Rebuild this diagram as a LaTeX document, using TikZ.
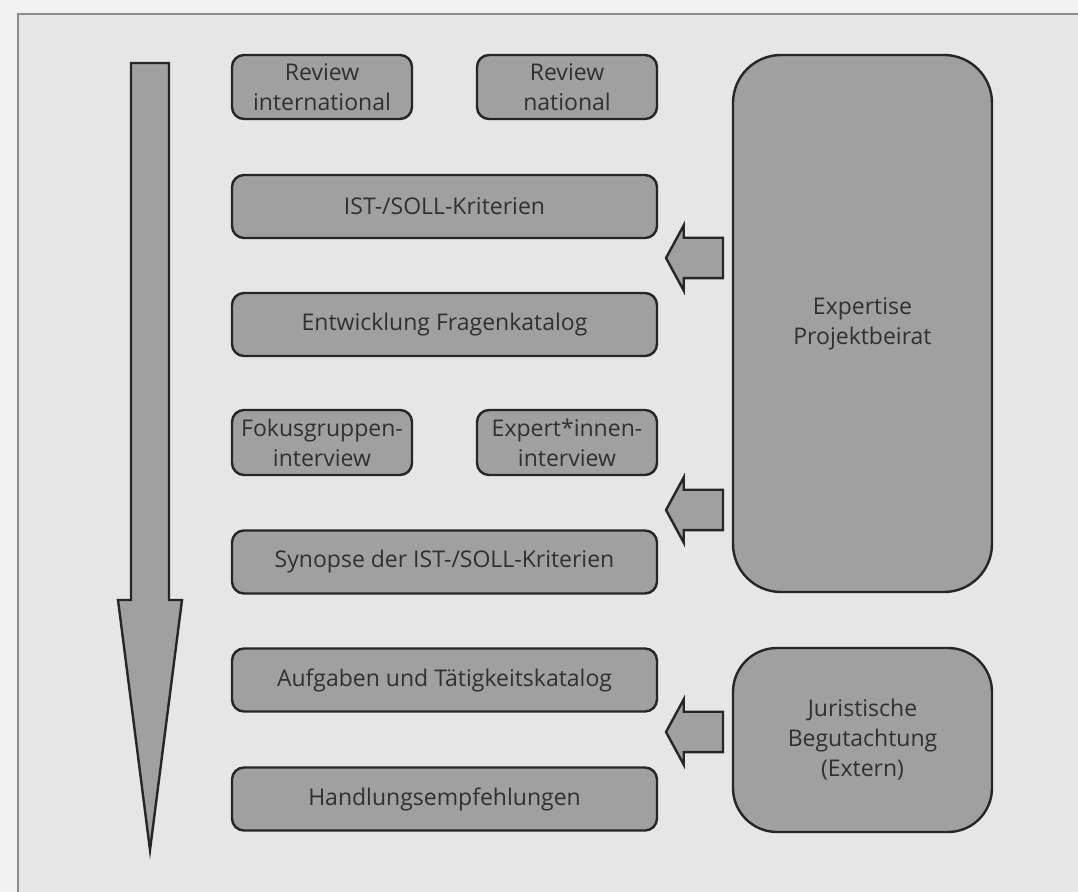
\documentclass[tikz,border=0pt]{standalone}
\usepackage{fontspec}
\setmainfont{Open Sans}
\usetikzlibrary{shapes.arrows}
\definecolor{pagegray}{HTML}{F2F2F2}
\definecolor{bggray}{HTML}{E6E6E6}
\definecolor{framegray}{HTML}{8C8C8C}
\definecolor{boxgray}{HTML}{A0A0A0}
\definecolor{inkgray}{HTML}{303030}

\begin{document}
\begin{tikzpicture}[x=0.5pt, y=-0.5pt,
    every node/.style={font=\fontsize{11.5}{15}\selectfont, text=inkgray},
    shapeline/.style={draw=black!85, line width=1.2pt, fill=boxgray},
    box/.style={shapeline, rounded corners=6pt, align=center, inner sep=0pt},
    halfbox/.style={box, minimum width=90pt, minimum height=32pt},
    widebox/.style={box, minimum width=212.5pt, minimum height=31.5pt},
    bigbox/.style={box, minimum width=129.5pt},
    blockarrow/.style={single arrow, shapeline,
                inner sep=9.5pt, minimum height=28.5pt,
                single arrow head extend=6.25pt, single arrow tip angle=123,
                shape border rotate=180},
    ]
\useasboundingbox (0,0) rectangle (1078,892);
% page and frame
\fill[pagegray] (0,0) rectangle (1078,892);
\filldraw[fill=bggray, draw=framegray, line width=1pt] (18,14) rectangle (1090,904);

% timeline
\draw[shapeline, line join=miter] (131,63) -- (169,63) -- (169,600) -- (182,600)
      -- (150,850) -- (118,600) -- (131,600) -- cycle;

% left column
\node (revint)   [halfbox] at (322,87)    {Review\\international};
\node (revnat)   [halfbox] at (567,87)    {Review\\national};
\node (istsoll)  [widebox] at (444.5,206.5) {IST-/SOLL-Kriterien};
\node (fragen)   [widebox] at (444.5,324.5) {Entwicklung Fragenkatalog};
\node (fokus)    [halfbox, minimum height=32.5pt] at (322,442.5) {Fokusgruppen-\\interview};
\node (experten) [halfbox, minimum height=32.5pt] at (567,442.5) {Expert*innen-\\interview};
\node (synopse)  [widebox] at (444.5,562) {Synopse der IST-/SOLL-Kriterien};
\node (aufgaben) [widebox] at (444.5,680) {Aufgaben und Tätigkeitskatalog};
\node (handlung) [widebox] at (444.5,799) {Handlungsempfehlungen};

% right column
\node (beirat) [bigbox, minimum height=268.5pt, rounded corners=24pt]
      at (862.5,323.5) {Expertise\\Projektbeirat};
\node (jurist) [bigbox, minimum height=92pt, rounded corners=22pt]
      at (862.5,740) {Juristische\\Begutachtung\\(Extern)};

% input arrows
\node (inputA) [blockarrow] at (700,258) {};
\node (inputB) [blockarrow] at (700,510) {};
\node (inputC) [blockarrow] at (700,732) {};
\end{tikzpicture}
\end{document}
